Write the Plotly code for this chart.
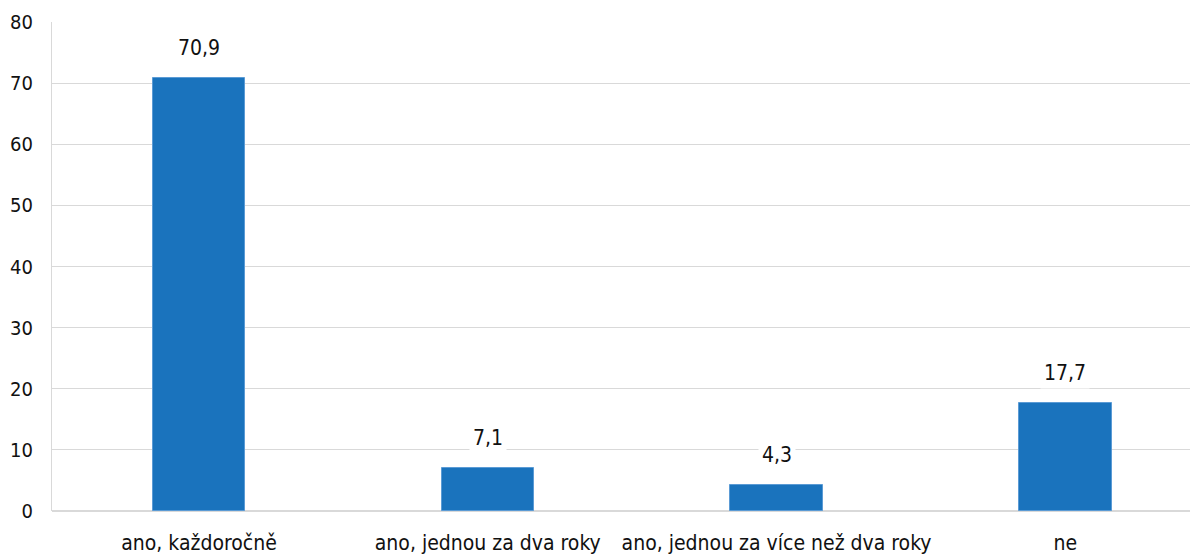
import plotly.graph_objects as go

categories = ["ano, každoročně", "ano, jednou za dva roky", "ano, jednou za více než dva roky", "ne"]
values = [70.9, 7.1, 4.3, 17.7]
value_labels = ["70,9", "7,1", "4,3", "17,7"]
y_ticks = [0, 10, 20, 30, 40, 50, 60, 70, 80]

FONT = "DejaVu Sans Condensed, Liberation Sans Narrow, Arial Narrow, sans-serif"

fig = go.Figure()
fig.add_trace(go.Bar(
    x=list(range(len(categories))), y=values,
    marker=dict(color="#1a73bd", line=dict(color="#5b9bd5", width=1)),
    width=0.32,
))

for i, (v, t) in enumerate(zip(values, value_labels)):
    fig.add_annotation(x=i, y=v, text=t, showarrow=False, yanchor="bottom",
                       yshift=14, bgcolor="white", borderpad=3,
                       font=dict(family=FONT, size=21, color="#111111"))

fig.update_layout(
    width=1198, height=554,
    margin=dict(l=44, r=0, t=14, b=51),
    plot_bgcolor="white", paper_bgcolor="white",
    showlegend=False,
    separators=", ",
    font=dict(family=FONT, size=21, color="#111111"),
    xaxis=dict(tickmode="array", tickvals=list(range(len(categories))), ticktext=categories,
               range=[-0.509, 3.487], showgrid=False, zeroline=False, showline=False,
               ticks="", automargin=False, ticklabelstandoff=17,
               tickfont=dict(family=FONT, size=21, color="#111111")),
    yaxis=dict(range=[0, 80], tickmode="array", tickvals=y_ticks, showgrid=True,
               gridcolor="#d9d9d9", gridwidth=1, zeroline=True, zerolinecolor="#d9d9d9",
               showline=True, linecolor="#d9d9d9", ticks="", ticklabelstandoff=14,
               automargin=False,
               tickfont=dict(family=FONT, size=20, color="#111111")),
    bargap=0,
)
fig.write_html("out.html")
